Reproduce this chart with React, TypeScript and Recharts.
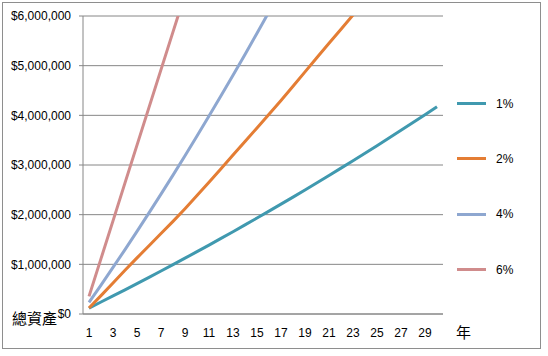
import { LineChart, Line, XAxis, YAxis, CartesianGrid, Legend } from 'recharts'

const years = [
  1, 2, 3, 4, 5, 6, 7, 8, 9, 10, 11, 12, 13, 14, 15,
  16, 17, 18, 19, 20, 21, 22, 23, 24, 25, 26, 27, 28, 29, 30,
]

const rate1 = [
  120000, 241000, 364000, 487000, 612000, 738000, 866000, 994000, 1124000, 1255000,
  1388000, 1522000, 1657000, 1794000, 1932000, 2071000, 2212000, 2354000, 2497000, 2642000,
  2789000, 2937000, 3086000, 3237000, 3389000, 3543000, 3699000, 3855000, 4014000, 4174000,
]
const rate2 = [
  120000, 370000, 625000, 880000, 1130000, 1375000, 1620000, 1865000, 2120000, 2385000,
  2655000, 2925000, 3200000, 3475000, 3745000, 4020000, 4300000, 4585000, 4875000, 5165000,
  5450000, 5735000, 6020000, 6310000,
]
const rate4 = [
  235000, 583000, 937000, 1297000, 1663000, 2035000, 2413000, 2797000, 3187000, 3583000,
  3985000, 4393000, 4807000, 5227000, 5653000, 6085000, 6523000,
]
const rate6 = [355000, 1115000, 1875000, 2640000, 3400000, 4160000, 4920000, 5680000, 6440000]

const yTicks = [0, 1000000, 2000000, 3000000, 4000000, 5000000, 6000000]
const xLabelTicks = [1, 3, 5, 7, 9, 11, 13, 15, 17, 19, 21, 23, 25, 27, 29]
const xBoundTicks = [
  0.5, 1.5, 2.5, 3.5, 4.5, 5.5, 6.5, 7.5, 8.5, 9.5, 10.5, 11.5, 12.5, 13.5, 14.5, 15.5,
  16.5, 17.5, 18.5, 19.5, 20.5, 21.5, 22.5, 23.5, 24.5, 25.5, 26.5, 27.5, 28.5, 29.5, 30.5,
]

const SERIES = [
  { key: 'r1', name: '1%', color: '#4099AF' },
  { key: 'r2', name: '2%', color: '#E47D34' },
  { key: 'r4', name: '4%', color: '#8EA7D0' },
  { key: 'r6', name: '6%', color: '#D08C8C' },
]

const data = years.map((year, i) => ({
  year,
  r1: rate1[i] ?? null,
  r2: rate2[i] ?? null,
  r4: rate4[i] ?? null,
  r6: rate6[i] ?? null,
}))

const FONT = '"Liberation Sans", Arial, sans-serif'
const CJK = '"Noto Sans CJK TC", "Noto Sans CJK SC", sans-serif'
const AXIS = '#868686'

const money = (v: number) => `$${v.toLocaleString('en-US')}`

// 縦軸のタイトル（軸の左下）
const yTitle = (props: any) => {
  const vb = props.viewBox
  return (
    <text x={vb.x + 4} y={vb.y + vb.height + 10} fontSize={15} fontFamily={CJK} fill="#000">
      總資產
    </text>
  )
}

const xTitle = (props: any) => {
  const vb = props.viewBox
  return (
    <text x={vb.x + vb.width + 13} y={vb.y + 24} fontSize={15} fontFamily={CJK} fill="#000">
      年
    </text>
  )
}

const renderLegend = () => (
  <div style={{ fontFamily: FONT, fontSize: 12 }}>
    {SERIES.map(s => (
      <div key={s.key} style={{ height: 55.3, display: 'flex', alignItems: 'center' }}>
        <span style={{ width: 29, height: 3, background: s.color, display: 'inline-block' }} />
        <span style={{ marginLeft: 10, color: '#000' }}>{s.name}</span>
      </div>
    ))}
  </div>
)

export default function App() {
  return (
    <div style={{ position: 'relative', width: 548, height: 356, background: '#fff' }}>
      <style>{'body{margin:0}'}</style>
      <div
        style={{
          position: 'absolute',
          left: 2,
          top: 2,
          width: 539,
          height: 347,
          border: '1px solid #8e8e8e',
          boxSizing: 'border-box',
        }}
      />
      <LineChart
        width={548}
        height={356}
        data={data}
        margin={{ top: 16, right: 105, bottom: 40, left: 8 }}
      >
        <CartesianGrid xAxisId="a" horizontal vertical={false} stroke={AXIS} />
        <XAxis
          xAxisId="a"
          dataKey="year"
          type="number"
          domain={[0.5, 30.5]}
          ticks={xBoundTicks}
          interval={0}
          height={1}
          tick={false}
          tickSize={5}
          stroke={AXIS}
          label={xTitle}
        />
        <XAxis
          xAxisId="b"
          dataKey="year"
          type="number"
          domain={[0.5, 30.5]}
          ticks={xLabelTicks}
          interval={0}
          height={1}
          axisLine={false}
          tickLine={false}
          tickSize={5}
          tickMargin={8}
          tick={{ fontSize: 12, fontFamily: FONT, fill: '#000' }}
        />
        <YAxis
          type="number"
          domain={[0, 6000000]}
          ticks={yTicks}
          allowDataOverflow
          width={75}
          tickSize={4}
          tickMargin={8}
          tickFormatter={money}
          tick={{ fontSize: 12, fontFamily: FONT, fill: '#000' }}
          stroke={AXIS}
          label={yTitle}
        />
        <Legend
          layout="horizontal"
          align="center"
          verticalAlign="middle"
          content={renderLegend}
          wrapperStyle={{ left: 457, top: 76, width: 80 }}
        />
        {SERIES.map(s => (
          <Line
            key={s.key}
            xAxisId="a"
            type="linear"
            dataKey={s.key}
            name={s.name}
            stroke={s.color}
            strokeWidth={3}
            dot={false}
            activeDot={false}
            isAnimationActive={false}
          />
        ))}
      </LineChart>
    </div>
  )
}
